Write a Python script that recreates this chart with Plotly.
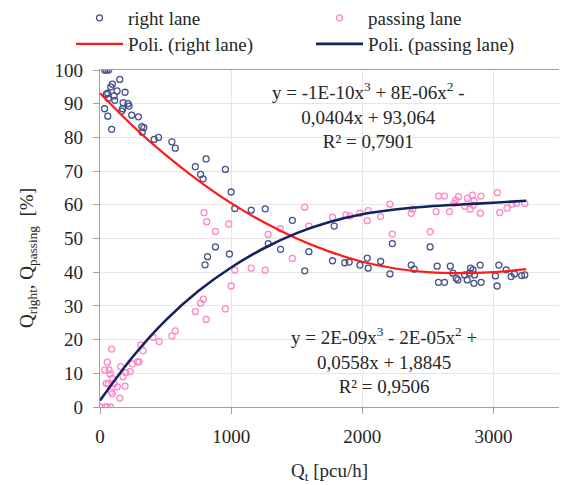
import plotly.graph_objects as go

# ---- data ----
right_x = [36, 50, 66, 151, 94, 82, 130, 59, 48, 107, 63, 112, 191, 176, 214, 222, 35, 172, 166, 242,
           293, 59, 89, 319, 334, 322, 413, 446, 548, 574, 727, 809, 767, 786, 956, 1000, 1028, 1153,
           1260, 1467, 1283, 1377, 880, 987, 820, 801, 1561, 1786, 1593, 1773, 1866, 1900, 1982, 2038,
           2045, 2140, 2211, 2229, 2373, 2396, 2517, 2571, 2581, 2627, 2671, 2691, 2716, 2729, 2780,
           2800, 2818, 2826, 2844, 2851, 2856, 2899, 2906, 3028, 3015, 3041, 3097, 3135, 3160, 3215, 3239]
right_y = [100, 100, 100, 97.2, 95.8, 95.0, 93.8, 93.1, 92.8, 92.3, 91.6, 91.0, 93.4, 90.3, 90.0, 89.3,
           88.5, 88.5, 87.8, 86.6, 86.1, 86.3, 82.4, 83.2, 82.9, 81.5, 79.4, 80.0, 78.7, 76.8, 71.3,
           73.6, 69.0, 67.7, 70.5, 63.8, 58.9, 58.4, 58.8, 55.4, 48.5, 46.8, 47.5, 45.4, 44.6, 42.2,
           40.4, 53.7, 46.1, 43.4, 42.8, 43.0, 42.1, 44.2, 41.2, 43.2, 39.5, 48.5, 42.1, 40.9, 47.5,
           41.8, 37.0, 37.0, 41.8, 39.7, 38.2, 37.7, 39.2, 37.7, 39.7, 41.2, 40.7, 36.7, 39.2, 42.1,
           37.0, 35.9, 38.9, 42.1, 40.7, 38.7, 39.5, 39.0, 39.2]

passing_x = [0, 38, 55, 80, 89, 56, 36, 69, 77, 94, 48, 64, 107, 86, 94, 132, 151, 158, 176, 191, 197,
             229, 247, 285, 298, 311, 329, 405, 451, 548, 574, 727, 767, 788, 809, 956, 1000, 1028, 1153,
             1260, 1467, 793, 814, 880, 982, 1283, 1375, 1561, 1593, 1773, 1875, 1905, 1982, 2045, 2038,
             2140, 2211, 2229, 2373, 2385, 2517, 2582, 2626, 2563, 2665, 2699, 2712, 2733, 2781, 2801,
             2840, 2852, 2847, 2823, 2905, 2900, 3030, 3048, 3104, 3142, 3175, 3239]
passing_y = [0, 0, 0, 0, 17.2, 13.3, 11.0, 11.0, 9.8, 8.5, 7.0, 6.8, 7.0, 4.5, 3.9, 6.0, 2.6, 12.0, 9.0,
             6.2, 10.2, 10.5, 12.8, 13.4, 13.4, 18.4, 16.7, 20.7, 19.4, 21.1, 22.6, 28.3, 30.8, 32.0,
             26.0, 29.1, 35.9, 40.6, 41.2, 40.6, 44.1, 57.7, 55.0, 52.1, 54.3, 51.2, 52.9, 59.3, 53.7,
             56.3, 57.0, 56.7, 57.5, 58.3, 55.3, 56.5, 60.2, 51.3, 57.5, 58.7, 52.0, 62.6, 62.6, 58.0,
             58.0, 60.4, 61.4, 62.4, 59.6, 61.9, 62.9, 61.2, 59.9, 58.7, 62.6, 57.5, 63.6, 57.7, 59.0,
             60.2, 60.4, 60.4]

# trendline values
trend_x = [0, 250, 500, 750, 1000, 1250, 1500, 1750, 2000, 2250, 2500, 2750, 3000, 3250]
trend_right = [93.1, 83.4, 74.8, 67.2, 60.5, 54.8, 50.0, 46.1, 43.1, 41.1, 40.0, 39.7, 40.0, 40.9]
trend_passing = [1.9, 14.9, 25.7, 34.4, 41.4, 47.1, 51.6, 54.9, 57.2, 58.6, 59.5, 60.1, 60.6, 61.2]

x_ticks = [0, 1000, 2000, 3000]
y_ticks = [0, 10, 20, 30, 40, 50, 60, 70, 80, 90, 100]

eq_right = "y = -1E-10x<sup>3</sup> + 8E-06x<sup>2</sup> -<br>0,0404x + 93,064<br>R² = 0,7901"
eq_passing = "y = 2E-09x<sup>3</sup> - 2E-05x<sup>2</sup> +<br>0,0558x + 1,8845<br>R² = 0,9506"
y_title = "Q<sub>right</sub>, Q<sub>passing</sub>  [%]"
x_title = "Q<sub>t</sub> [pcu/h]"

FONT = "Liberation Serif, Times New Roman, Tinos, DejaVu Serif, serif"
TXT = "#262626"

# the page body adds an 8 px offset; the figure is sized so the plot lands where the reference has it
OX, OY = 8, 8
W, H = 567 - OX, 485 - OY
L, R, T, B = 100 - OX, 8, 70 - OY, 78
pw, ph = W - L - R, H - T - B


def px_x(p):  # page pixel -> paper x
    return (p - OX - L) / pw


def px_y(p):  # page pixel -> paper y
    return 1 - (p - OY - T) / ph


fig = go.Figure()
fig.add_trace(go.Scatter(x=right_x, y=right_y, mode="markers", name="right lane", legend="legend",
                         marker=dict(symbol="circle-open", size=6, color="#46528a",
                                     line=dict(width=1.3, color="#46528a"))))
fig.add_trace(go.Scatter(x=passing_x, y=passing_y, mode="markers", name="passing lane", legend="legend",
                         marker=dict(symbol="circle-open", size=6, color="#ff88c4",
                                     line=dict(width=1.3, color="#ff88c4"))))
fig.add_trace(go.Scatter(x=trend_x, y=trend_right, mode="lines", name="Poli. (right lane)",
                         legend="legend2", line=dict(color="#ff1a1a", width=2.2, shape="spline")))
fig.add_trace(go.Scatter(x=trend_x, y=trend_passing, mode="lines", name="Poli. (passing lane)",
                         legend="legend2", line=dict(color="#14235f", width=2.6, shape="spline")))

fig.add_annotation(x=px_x(368), y=px_y(115), xref="paper", yref="paper", text=eq_right,
                   xanchor="center", yanchor="middle",
                   showarrow=False, font=dict(family=FONT, size=19, color=TXT), align="center")
fig.add_annotation(x=px_x(384), y=px_y(360), xref="paper", yref="paper", text=eq_passing,
                   xanchor="center", yanchor="middle",
                   showarrow=False, font=dict(family=FONT, size=19, color=TXT), align="center")
# y-axis title (placed as in the reference, slightly below the plot centre)
fig.add_annotation(x=px_x(28), y=px_y(258), xref="paper", yref="paper", text=y_title,
                   textangle=-90, xanchor="center", yanchor="middle",
                   showarrow=False, font=dict(family=FONT, size=19, color=TXT))

leg_common = dict(orientation="h", xanchor="left", yanchor="middle", entrywidth=178, itemwidth=47,
                  font=dict(family=FONT, size=19, color=TXT), bgcolor="rgba(0,0,0,0)")
fig.update_layout(
    width=W, height=H,
    margin=dict(l=L, r=R, t=T, b=B, autoexpand=False),
    paper_bgcolor="white", plot_bgcolor="white",
    font=dict(family=FONT, size=19, color=TXT),
    legend=dict(x=px_x(71), y=px_y(18), **leg_common),
    legend2=dict(x=px_x(71), y=px_y(44), **leg_common),
    showlegend=True,
)
axis_common = dict(showgrid=True, gridcolor="#e6e6e6", gridwidth=1, zeroline=False,
                   showline=True, linecolor="#a0a0a0", linewidth=1.2, mirror=True,
                   ticks="outside", ticklen=6, tickcolor="#a0a0a0",
                   tickfont=dict(family=FONT, size=19, color=TXT))
fig.update_xaxes(range=[0, 3500], tickvals=x_ticks, ticktext=[str(v) for v in x_ticks],
                 ticklabelstandoff=6,
                 title=dict(text=x_title, font=dict(family=FONT, size=19, color=TXT),
                            standoff=17), **axis_common)
fig.update_yaxes(range=[0, 100], tickvals=y_ticks, ticktext=[str(v) for v in y_ticks],
                 ticklabelstandoff=6, **axis_common)

fig.write_html("out.html")
